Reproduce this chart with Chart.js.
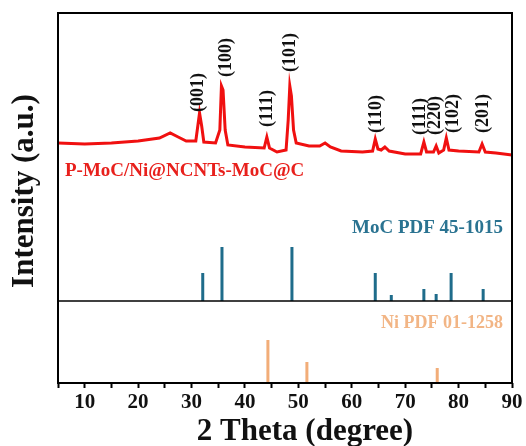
<!DOCTYPE html>
<html>
<head>
<meta charset="utf-8">
<script src="https://cdn.jsdelivr.net/npm/chart.js@4"></script>
<style>
  body { margin: 0; background: #fff; }
</style>
</head>
<body>
<canvas id="xrdChart" width="526" height="446"></canvas>
<script>
// Measured sample pattern (2 theta, intensity a.u.)
const sampleTheta = [5, 10, 15, 20, 24, 26, 27.5, 29, 30.8, 31.2, 31.5, 31.9, 32.3, 34.5, 35.3, 35.6, 35.9, 36.3, 36.8,
  40, 43.6, 44.1, 44.6, 46, 47.7, 48.1, 48.4, 48.7, 49.1, 49.6, 52, 54, 55, 56, 58, 62, 63.9, 64.4, 64.9, 65.5, 66.2,
  67, 70, 72.9, 73.5, 74.0, 75.3, 75.8, 76.3, 77.2, 77.7, 78.2, 80, 83.8, 84.4, 85.0, 87, 90];
const sampleIntensity = [240, 239, 240, 242, 245, 250, 246, 242, 242, 258, 270, 257, 241, 240, 253, 297, 293, 253, 238,
  236, 235, 246, 235, 231, 233, 263, 297, 287, 253, 240, 237, 237, 240, 236, 232, 231, 232, 244, 234, 233, 236,
  232, 229, 229, 241, 231, 231, 237, 230, 233, 245, 233, 232, 231, 239, 231, 230, 228];

// Peak indices
const hklLabels = ['(001)', '(100)', '(111)', '(101)', '(110)', '(111)', '(220)', '(102)', '(201)'];
const hklTheta = [31.2, 36.5, 44.2, 48.5, 64.6, 72.9, 75.7, 79.0, 84.6];
const hklTop = [271, 306, 256, 311, 250, 248, 248, 250, 250];

// MoC PDF 45-1015
const mocTheta = [32.1, 35.7, 48.8, 64.4, 67.4, 73.5, 75.8, 78.6, 84.6];
const mocIntensity = [28, 54, 54, 28, 6, 12, 7, 28, 12];

// Ni PDF 01-1258
const niTheta = [44.3, 51.6, 76.0];
const niIntensity = [43, 21, 15];

const xTicks = [10, 20, 30, 40, 50, 60, 70, 80, 90];

const mocBase = 82;
const niBase = 0;

function sticks(theta, inten, base) {
  const pts = [];
  theta.forEach((t, i) => {
    pts.push({ x: t, y: base });
    pts.push({ x: t, y: base + inten[i] });
    pts.push({ x: t, y: null });
  });
  return pts;
}

const serif = '"Liberation Serif", "Times New Roman", serif';

// frame, separator, titles and text annotations
const decorPlugin = {
  id: 'decor',
  afterDatasetsDraw(chart) {
    const { ctx, chartArea: a, scales: { x, y } } = chart;
    ctx.save();
    ctx.strokeStyle = '#000';
    ctx.lineWidth = 1.5;
    const sy = y.getPixelForValue(mocBase);
    ctx.beginPath();
    ctx.moveTo(a.left, sy);
    ctx.lineTo(a.right, sy);
    ctx.stroke();
    ctx.lineWidth = 2;
    ctx.strokeRect(a.left, a.top, a.right - a.left, a.bottom - a.top);

    // hkl labels, rotated
    ctx.fillStyle = '#111';
    ctx.font = 'bold 18px ' + serif;
    ctx.textAlign = 'left';
    ctx.textBaseline = 'middle';
    hklLabels.forEach((lab, i) => {
      ctx.save();
      ctx.translate(x.getPixelForValue(hklTheta[i]), y.getPixelForValue(hklTop[i]));
      ctx.rotate(-Math.PI / 2);
      ctx.fillText(lab, 0, 0);
      ctx.restore();
    });

    ctx.font = 'bold 19px ' + serif;
    ctx.fillStyle = '#e8201c';
    ctx.textAlign = 'left';
    ctx.fillText('P-MoC/Ni@NCNTs-MoC@C', x.getPixelForValue(6.3), y.getPixelForValue(212));

    ctx.textAlign = 'right';
    ctx.font = 'bold 19px ' + serif;
    ctx.fillStyle = '#2a7391';
    ctx.fillText('MoC PDF 45-1015', x.getPixelForValue(88.3), y.getPixelForValue(155));
    ctx.font = 'bold 18px ' + serif;
    ctx.fillStyle = '#f2b585';
    ctx.fillText('Ni PDF 01-1258', x.getPixelForValue(88.3), y.getPixelForValue(60));

    // axis titles
    ctx.fillStyle = '#111';
    ctx.textAlign = 'center';
    ctx.font = 'bold 31px ' + serif;
    ctx.fillText('2 Theta (degree)', 305, 432);
    ctx.translate(25, 191);
    ctx.rotate(-Math.PI / 2);
    ctx.fillText('Intensity (a.u.)', 0, 0);
    ctx.restore();
  }
};

new Chart(document.getElementById('xrdChart'), {
  type: 'line',
  data: {
    datasets: [
      {
        label: 'P-MoC/Ni@NCNTs-MoC@C',
        data: sampleTheta.map((t, i) => ({ x: t, y: sampleIntensity[i] })),
        borderColor: '#f01010',
        borderWidth: 3,
        pointRadius: 0,
        tension: 0
      },
      {
        label: 'MoC PDF 45-1015',
        data: sticks(mocTheta, mocIntensity, mocBase),
        borderColor: '#1f6c8b',
        borderWidth: 3,
        pointRadius: 0,
        spanGaps: false
      },
      {
        label: 'Ni PDF 01-1258',
        data: sticks(niTheta, niIntensity, niBase),
        borderColor: '#f2ad78',
        borderWidth: 3,
        pointRadius: 0,
        spanGaps: false
      }
    ]
  },
  options: {
    responsive: false,
    animation: false,
    layout: { padding: { top: 13, right: 14, left: 58, bottom: 0 } },
    plugins: { legend: { display: false }, tooltip: { enabled: false } },
    scales: {
      x: {
        type: 'linear',
        min: 5,
        max: 90,
        offset: false,
        afterFit: s => { s.height = 63; },
        afterBuildTicks: s => {
          const t = [];
          for (let v = 5; v <= 90; v += 5) t.push({ value: v });
          s.ticks = t;
        },
        border: { display: false },
        grid: {
          drawOnChartArea: false,
          tickLength: 5,
          tickWidth: 2,
          tickColor: '#000'
        },
        ticks: {
          autoSkip: false,
          maxRotation: 0,
          padding: 2,
          color: '#111',
          font: { family: serif, size: 21, weight: 'bold' },
          callback: v => xTicks.includes(v) ? String(v) : ''
        }
      },
      y: {
        display: false,
        min: 0,
        max: 370
      }
    }
  },
  plugins: [decorPlugin]
});
</script>
</body>
</html>
